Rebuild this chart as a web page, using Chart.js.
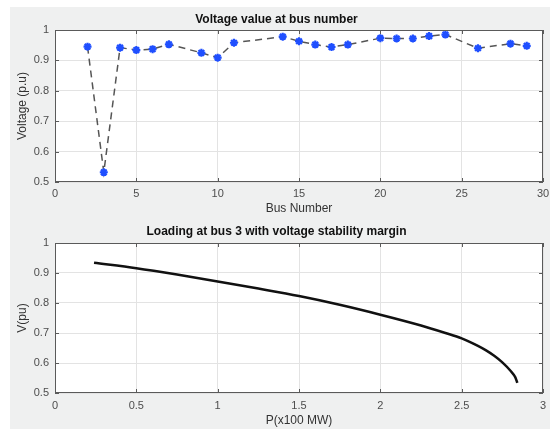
<!DOCTYPE html>
<html>
<head>
<meta charset="utf-8">
<script src="https://cdn.jsdelivr.net/npm/chart.js@4.4.0/dist/chart.umd.min.js"></script>
<style>
    html, body { margin: 0; padding: 0; background: #ffffff; }
    #wrap { position: relative; width: 550px; height: 429px; overflow: hidden; }
    #figbg { position: absolute; left: 10px; top: 7px; width: 540px; height: 422px; background: #eff0f0; }
    .box { position: absolute; left: 0; width: 550px; }
</style>
</head>
<body>
<div id="wrap">
    <div id="figbg"></div>
    <div class="box" style="top:0; height:220px;"><canvas id="busChart"></canvas></div>
    <div class="box" style="top:220px; height:209px;"><canvas id="loadChart"></canvas></div>
</div>
<script>
// --- Data: voltage at each bus ---
const busNumbers = [2, 3, 4, 5, 6, 7, 9, 10, 11, 14, 15, 16, 17, 18, 20, 21, 22, 23, 24, 26, 28, 29];
const busVoltages = [0.945, 0.532, 0.942, 0.934, 0.937, 0.953, 0.925, 0.909, 0.958, 0.978, 0.963, 0.952, 0.944, 0.952, 0.973, 0.972, 0.972, 0.980, 0.985, 0.940, 0.955, 0.948];

// --- Data: PV curve at bus 3 ---
const loadP = [0.24, 0.5, 0.75, 1.0, 1.25, 1.5, 1.75, 2.0, 2.25, 2.4, 2.5, 2.6, 2.65, 2.7, 2.75, 2.8, 2.83, 2.842];
const loadV = [0.934, 0.916, 0.895, 0.872, 0.848, 0.823, 0.794, 0.761, 0.725, 0.700, 0.682, 0.657, 0.642, 0.624, 0.602, 0.574, 0.552, 0.534];

// --- Tick labels ---
const busTicks = [0, 5, 10, 15, 20, 25, 30];
const busTickLabels = ['0', '5', '10', '15', '20', '25', '30'];
const voltTicks = [0.5, 0.6, 0.7, 0.8, 0.9, 1];
const voltTickLabels = ['0.5', '0.6', '0.7', '0.8', '0.9', '1'];
const powerTicks = [0, 0.5, 1, 1.5, 2, 2.5, 3];
const powerTickLabels = ['0', '0.5', '1', '1.5', '2', '2.5', '3'];

const FONT = "'Liberation Sans', Arial, Helvetica, sans-serif";
const tickColor = '#4d4d4d';
const gridColor = '#e3e3e3';
const boxColor = '#5a5a5a';

// white axes area + matlab style box with inward ticks
const axesBox = {
    id: 'axesBox',
    beforeDraw(chart) {
        const { ctx, chartArea: a } = chart;
        ctx.save();
        ctx.fillStyle = '#ffffff';
        ctx.fillRect(a.left, a.top, a.right - a.left, a.bottom - a.top);
        ctx.restore();
    },
    afterDraw(chart) {
        const { ctx, chartArea: a, scales } = chart;
        ctx.save();
        ctx.strokeStyle = boxColor;
        ctx.lineWidth = 1;
        ctx.strokeRect(a.left + 0.5, a.top + 0.5, a.right - a.left - 1, a.bottom - a.top - 1);
        ctx.beginPath();
        scales.x.ticks.forEach(t => {
            const px = Math.round(scales.x.getPixelForValue(t.value)) + 0.5;
            ctx.moveTo(px, a.bottom); ctx.lineTo(px, a.bottom - 4);
            ctx.moveTo(px, a.top); ctx.lineTo(px, a.top + 4);
        });
        scales.y.ticks.forEach(t => {
            const py = Math.round(scales.y.getPixelForValue(t.value)) + 0.5;
            ctx.moveTo(a.left, py); ctx.lineTo(a.left + 4, py);
            ctx.moveTo(a.right, py); ctx.lineTo(a.right - 4, py);
        });
        ctx.stroke();
        ctx.restore();
    }
};

function makeAxis(min, max, ticks, labels, titleText, titlePad, fit, tickPad) {
    return {
        type: 'linear',
        min: min,
        max: max,
        afterBuildTicks: s => { s.ticks = ticks.map(v => ({ value: v })); },
        afterFit: fit,
        ticks: {
            autoSkip: false,
            maxRotation: 0,
            color: tickColor,
            padding: tickPad,
            font: { family: FONT, size: 11 },
            callback: (v, i) => labels[i]
        },
        grid: { color: gridColor, drawTicks: false },
        border: { display: false },
        title: {
            display: true,
            text: titleText,
            color: '#333333',
            font: { family: FONT, size: 12 },
            padding: titlePad
        }
    };
}

// fixed height for bottom axes, no extra side padding for edge labels
const fitX = h => s => { s.height = h; s.paddingLeft = 0; s.paddingRight = 0; };
const fitY = s => { s.width = 45; s.paddingTop = 0; s.paddingBottom = 0; };

function baseOptions(titleText, titlePad, xAxis, yAxis) {
    return {
        responsive: true,
        maintainAspectRatio: false,
        animation: false,
        layout: { padding: { left: 10, right: 7, top: 0, bottom: 0 } },
        plugins: {
            legend: { display: false },
            tooltip: { enabled: false },
            title: {
                display: true,
                text: titleText,
                color: '#111111',
                font: { family: FONT, size: 12, weight: 'bold' },
                padding: titlePad
            }
        },
        scales: { x: xAxis, y: yAxis }
    };
}

// --- Top chart: voltage at bus number ---
new Chart(document.getElementById('busChart').getContext('2d'), {
    type: 'line',
    data: {
        datasets: [{
            data: busNumbers.map((b, i) => ({ x: b, y: busVoltages[i] })),
            borderColor: '#555555',
            borderWidth: 1.5,
            borderDash: [7, 5],
            fill: false,
            tension: 0,
            pointStyle: 'star',
            pointRadius: 4,
            pointBorderColor: '#1f4fff',
            pointBackgroundColor: '#1f4fff',
            pointBorderWidth: 2.2
        }]
    },
    plugins: [axesBox],
    options: baseOptions('Voltage value at bus number', { top: 12.3, bottom: 3.3 },
        makeAxis(0, 30, busTicks, busTickLabels, 'Bus Number', { top: 0, bottom: 3.8 }, fitX(38), 5),
        makeAxis(0.5, 1, voltTicks, voltTickLabels, 'Voltage (p.u)', { top: 5.5, bottom: 0 }, fitY, 6))
});

// --- Bottom chart: loading at bus 3 ---
new Chart(document.getElementById('loadChart').getContext('2d'), {
    type: 'line',
    data: {
        datasets: [{
            data: loadP.map((p, i) => ({ x: p, y: loadV[i] })),
            borderColor: '#111111',
            borderWidth: 2.5,
            fill: false,
            cubicInterpolationMode: 'monotone',
            pointRadius: 0
        }]
    },
    plugins: [axesBox],
    options: baseOptions('Loading at bus 3 with voltage stability margin', { top: 4.5, bottom: 4.1 },
        makeAxis(0, 3, powerTicks, powerTickLabels, 'P(x100 MW)', { top: 0, bottom: 1.1 }, fitX(36), 6),
        makeAxis(0.5, 1, voltTicks, voltTickLabels, 'V(pu)', { top: 5.5, bottom: 0 }, fitY, 6))
});
</script>
</body>
</html>
